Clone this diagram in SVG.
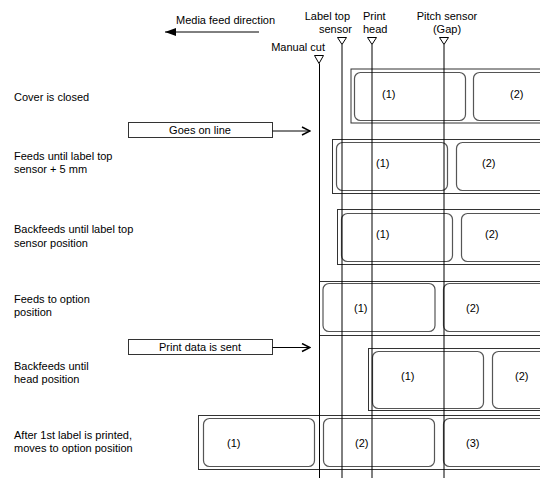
<svg xmlns="http://www.w3.org/2000/svg" width="540" height="487" viewBox="0 0 540 487">
<style>
text{font-family:"Liberation Sans",Arial,sans-serif;font-size:11px;fill:#000}
.mid{text-anchor:middle}
.end{text-anchor:end}
.strip{fill:none;stroke:#333;stroke-width:1}
.lab{fill:none;stroke:#555;stroke-width:1.2}
.sl{stroke:#000;stroke-width:1;fill:none}
.tri{fill:#fff;stroke:#000;stroke-width:1}
.box{fill:#fff;stroke:#333;stroke-width:1}
</style>
<defs>
<marker id="open" viewBox="0 0 10 10" refX="9" refY="5" markerWidth="10" markerHeight="10" markerUnits="userSpaceOnUse" orient="auto">
<path d="M1,1 L9,5 L1,9" fill="none" stroke="#000" stroke-width="1.5"/>
</marker>
<marker id="solid" viewBox="0 0 10 10" refX="10" refY="5" markerWidth="11" markerHeight="8" markerUnits="userSpaceOnUse" orient="auto" preserveAspectRatio="none">
<path d="M0,0 L10,5 L0,10 Z" fill="#000"/>
</marker>
</defs>

<g id="header">
<text x="176" y="24">Media feed direction</text>
<text x="350" y="20" class="end">Label top</text>
<text x="352" y="33" class="end">sensor</text>
<text x="363" y="20">Print</text>
<text x="363" y="33">head</text>
<text x="447" y="20" class="mid">Pitch sensor</text>
<text x="447" y="33" class="mid">(Gap)</text>
<text x="325" y="51" class="end">Manual cut</text>
</g>

<g id="steps">
<text x="14" y="101">Cover is closed</text>
<text x="14" y="160">Feeds until label top</text>
<text x="14" y="173">sensor + 5 mm</text>
<text x="14" y="233">Backfeeds until label top</text>
<text x="14" y="247">sensor position</text>
<text x="14" y="303">Feeds to option</text>
<text x="14" y="316">position</text>
<text x="14" y="370">Backfeeds until</text>
<text x="14" y="383">head position</text>
<text x="14" y="439">After 1st label is printed,</text>
<text x="14" y="452">moves to option position</text>
</g>

<g id="row1">
<rect class="strip" x="351" y="69" width="200" height="54"/>
<rect class="lab" x="354.5" y="72.5" width="111" height="48" rx="6"/>
<rect class="lab" x="473.5" y="72.5" width="111" height="48" rx="6"/>
<text x="382" y="98">(1)</text>
<text x="510" y="98">(2)</text>
</g>

<g id="row2">
<rect class="strip" x="332.5" y="139.5" width="220" height="54"/>
<rect class="lab" x="336.5" y="142.5" width="111" height="48" rx="6"/>
<rect class="lab" x="456.5" y="142.5" width="111" height="48" rx="6"/>
<text x="376" y="167">(1)</text>
<text x="482" y="167">(2)</text>
</g>

<g id="row3">
<rect class="strip" x="337.5" y="209.5" width="220" height="55"/>
<rect class="lab" x="341.5" y="213.5" width="111" height="48" rx="6"/>
<rect class="lab" x="461.5" y="213.5" width="111" height="48" rx="6"/>
<text x="376" y="238">(1)</text>
<text x="485" y="238">(2)</text>
</g>

<g id="row4">
<rect class="strip" x="319.5" y="281.5" width="240" height="54"/>
<rect class="lab" x="323" y="283.5" width="112" height="48" rx="6"/>
<rect class="lab" x="443.5" y="283.5" width="112" height="48" rx="6"/>
<text x="354" y="312">(1)</text>
<text x="466" y="312">(2)</text>
</g>

<g id="row5">
<rect class="strip" x="368.5" y="348.5" width="200" height="62"/>
<rect class="lab" x="372.5" y="351.5" width="111" height="57" rx="6"/>
<rect class="lab" x="492.5" y="351.5" width="111" height="57" rx="6"/>
<text x="401" y="380">(1)</text>
<text x="515" y="380">(2)</text>
</g>

<g id="row6">
<rect class="strip" x="198.5" y="415.5" width="360" height="54"/>
<rect class="lab" x="203.5" y="418.5" width="111" height="48" rx="6"/>
<rect class="lab" x="323.5" y="418.5" width="111" height="48" rx="6"/>
<rect class="lab" x="443.5" y="418.5" width="111" height="48" rx="6"/>
<text x="227" y="447">(1)</text>
<text x="355" y="447">(2)</text>
<text x="466" y="447">(3)</text>
</g>

<g id="goes-on-line">
<rect class="box" x="128.5" y="122.5" width="144" height="15"/>
<text x="200" y="134" class="mid">Goes on line</text>
</g>

<g id="print-data-sent">
<rect class="box" x="128.5" y="339.5" width="144" height="15"/>
<text x="200" y="351" class="mid">Print data is sent</text>
</g>

<g id="sensors">
<path class="tri" d="M314.5,55.5 L323.5,55.5 L319,63.5 Z"/>
<path class="tri" d="M337.5,37.5 L346.5,37.5 L342,44.5 Z"/>
<path class="tri" d="M367.5,37.5 L376.5,37.5 L372,44.5 Z"/>
<path class="tri" d="M439.5,37.5 L448.5,37.5 L444,44.5 Z"/>
</g>

<g id="connectors">
<line class="sl" x1="259" y1="32" x2="165" y2="32" marker-end="url(#solid)"/>
<line class="sl" x1="272.5" y1="131" x2="310" y2="131" stroke-width="1.5" marker-end="url(#open)"/>
<line class="sl" x1="272.5" y1="347.5" x2="310" y2="347.5" stroke-width="1.5" marker-end="url(#open)"/>
<line class="sl" x1="319.5" y1="63.5" x2="319.5" y2="478"/>
<line class="sl" x1="342" y1="44.5" x2="342" y2="478"/>
<line class="sl" x1="372" y1="44.5" x2="372" y2="478"/>
<line class="sl" x1="444" y1="44.5" x2="444" y2="478"/>
</g>
</svg>
